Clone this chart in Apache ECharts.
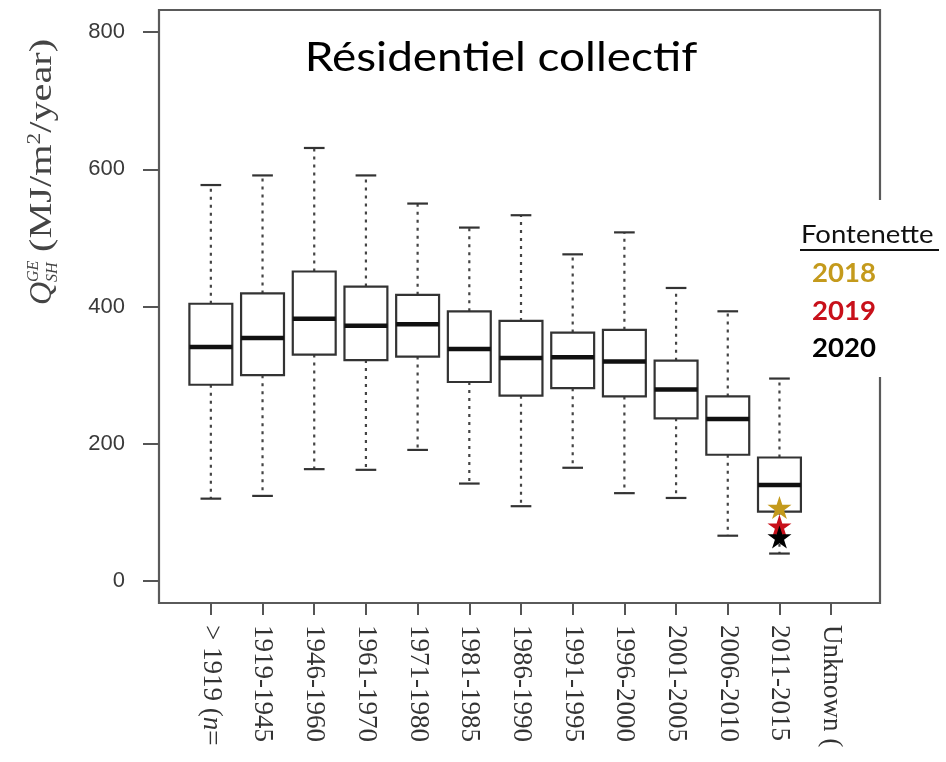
<!DOCTYPE html>
<html>
<head>
<meta charset="utf-8">
<title>Résidentiel collectif</title>
<script src="https://cdn.jsdelivr.net/npm/echarts@6/dist/echarts.min.js"></script>
<style>
  html, body { margin: 0; padding: 0; background: #fff; }
  #chart { width: 946px; height: 762px; }
</style>
</head>
<body>
<div id="chart"></div>
<script>
// Construction periods (x axis)
const categories = ['> 1919 (n=', '1919-1945', '1946-1960', '1961-1970', '1971-1980',
  '1981-1985', '1986-1990', '1991-1995', '1996-2000', '2001-2005', '2006-2010',
  '2011-2015', 'Unknown ('];

// Box statistics per period (MJ/m²/year); the last period has no box
const whiskerLow  = [120, 124, 163, 162, 191, 142, 109, 165, 128, 121,  66,  40];
const quartile1   = [286, 300, 330, 322, 327, 290, 270, 281, 269, 237, 184, 101];
const median      = [341, 354, 382, 372, 374, 338, 325, 326, 320, 279, 236, 140];
const quartile3   = [404, 419, 451, 429, 417, 393, 379, 362, 366, 321, 269, 180];
const whiskerHigh = [577, 591, 631, 591, 550, 515, 533, 476, 508, 427, 393, 295];

// Measured consumption of the Fontenette building
const fontenetteCategory = '2011-2015';
const fontenetteYears  = ['2018', '2019', '2020'];
const fontenetteValues = [107, 80, 64];
const fontenetteColors = ['#C49A1C', '#C8101A', '#000000'];

// Y axis range and step
const yMin = 0, yMax = 800, yStep = 200;

const boxData = quartile1.map((_, i) =>
  [i, whiskerLow[i], quartile1[i], median[i], quartile3[i], whiskerHigh[i]]);

const STAR = 'path://M50 0 L61.23 34.55 L97.55 34.55 L68.17 55.9 L79.39 90.45 L50 69.1 L20.61 90.45 L31.83 55.9 L2.45 34.55 L38.77 34.55 Z';

function renderBox(params, api) {
  const idx = api.value(0);
  const band = api.size([1, 0])[0];
  const half = band * 0.415;
  const capHalf = band * 0.2;
  const pLow = api.coord([idx, api.value(1)]);
  const cx = pLow[0];
  const yLow = pLow[1];
  const yQ1 = api.coord([idx, api.value(2)])[1];
  const yMed = api.coord([idx, api.value(3)])[1];
  const yQ3 = api.coord([idx, api.value(4)])[1];
  const yHigh = api.coord([idx, api.value(5)])[1];
  const dash = { stroke: '#444', lineWidth: 2.2, lineDash: [3, 5] };
  const solid = { stroke: '#333', lineWidth: 2.2 };
  return {
    type: 'group',
    children: [
      { type: 'line', shape: { x1: cx, y1: yQ3, x2: cx, y2: yHigh }, style: dash },
      { type: 'line', shape: { x1: cx, y1: yQ1, x2: cx, y2: yLow }, style: dash },
      { type: 'line', shape: { x1: cx - capHalf, y1: yHigh, x2: cx + capHalf, y2: yHigh }, style: solid },
      { type: 'line', shape: { x1: cx - capHalf, y1: yLow, x2: cx + capHalf, y2: yLow }, style: solid },
      { type: 'rect', shape: { x: cx - half, y: yQ3, width: half * 2, height: yQ1 - yQ3 },
        style: { fill: '#fff', stroke: '#333', lineWidth: 2.2 } },
      { type: 'line', shape: { x1: cx - half, y1: yMed, x2: cx + half, y2: yMed },
        style: { stroke: '#111', lineWidth: 4.5 } }
    ]
  };
}

const chart = echarts.init(document.getElementById('chart'), null, { renderer: 'canvas' });

const serif = 'Liberation Serif, Times New Roman, serif';

// period label: the count symbol "n" is set in italics
function periodLabel(value) {
  return value.replace('(n=', '({i|n}=');
}

const option = {
  animation: false,
  backgroundColor: '#fff',
  grid: [
    // outer frame
    { left: 159, right: 66, top: 10, bottom: 159, show: true,
      borderColor: '#5a5a5a', borderWidth: 2.2, backgroundColor: 'transparent' },
    // plotting area
    { left: 185, right: 89, top: 32, bottom: 181 },
    // period axis below the frame
    { left: 185, right: 89, top: 10, bottom: 159 }
  ],
  xAxis: [
    { gridIndex: 0, type: 'value', show: false },
    { gridIndex: 1, type: 'category', data: categories, show: false },
    { gridIndex: 2, type: 'category', data: categories, position: 'bottom',
      axisLine: { show: false },
      axisTick: { show: true, alignWithLabel: true, length: 12,
        lineStyle: { color: '#555', width: 2 } },
      axisLabel: { interval: 0, rotate: -90, margin: 22, fontFamily: serif,
        fontSize: 27, color: '#333', formatter: periodLabel,
        rich: { i: { fontFamily: serif, fontSize: 27, fontStyle: 'italic', color: '#333' } } },
      splitLine: { show: false } }
  ],
  yAxis: [
    { gridIndex: 0, type: 'value', show: false },
    { gridIndex: 1, type: 'value', min: yMin, max: yMax, interval: yStep, offset: 26,
      axisLine: { show: false },
      axisTick: { show: true, length: 16, lineStyle: { color: '#555', width: 2 } },
      axisLabel: { margin: 34, fontFamily: 'Liberation Sans, Arial, sans-serif',
        fontSize: 22, color: '#3a3a3a' },
      splitLine: { show: false } },
    { gridIndex: 2, type: 'value', show: false }
  ],
  series: [
    { type: 'custom', name: 'Q', xAxisIndex: 1, yAxisIndex: 1,
      renderItem: renderBox, data: boxData,
      encode: { x: 0, y: [1, 2, 3, 4, 5] }, z: 2 }
  ].concat(fontenetteYears.map((year, i) => ({
    type: 'scatter', name: year, xAxisIndex: 1, yAxisIndex: 1,
    symbol: STAR, symbolSize: [24, 23],
    itemStyle: { color: fontenetteColors[i], opacity: 1 },
    data: [[fontenetteCategory, fontenetteValues[i]]],
    z: 5 + i
  }))),
  graphic: [
    { type: 'text', x: 501, y: 58, z: 50, scaleX: 1.12,
      style: { text: 'Résidentiel collectif', font: '41px Lato, sans-serif',
        fill: '#000', align: 'center', verticalAlign: 'middle' } },
    // legend panel
    { type: 'rect', z: 60, shape: { x: 782, y: 200, width: 164, height: 177 },
      style: { fill: '#fff' } },
    { type: 'text', x: 801, y: 235, z: 61, scaleX: 1.1,
      style: { text: 'Fontenette', font: '25px Lato, sans-serif', fill: '#111',
        align: 'left', verticalAlign: 'middle' } },
    { type: 'line', z: 61, shape: { x1: 800, y1: 250, x2: 939, y2: 250 },
      style: { stroke: '#111', lineWidth: 2 } }
  ].concat(fontenetteYears.map((year, i) => ({
    type: 'text', x: 812, y: 274 + i * 37.5, z: 61, scaleX: 1.06,
    style: { text: year, font: 'bold 26px Lato, sans-serif', fill: fontenetteColors[i],
      align: 'left', verticalAlign: 'middle' }
  }))).concat([
    // y axis title, read bottom to top
    { type: 'group', x: 43, y: 305, rotation: Math.PI / 2, z: 50,
      children: [
        { type: 'text', x: 0, y: 0,
          style: { text: 'Q', font: 'italic 32px ' + serif, fill: '#444',
            align: 'left', verticalAlign: 'middle' } },
        { type: 'text', x: 23, y: -9,
          style: { text: 'GE', font: 'italic 16px ' + serif, fill: '#444',
            align: 'left', verticalAlign: 'middle' } },
        { type: 'text', x: 23, y: 10,
          style: { text: 'SH', font: 'italic 16px ' + serif, fill: '#444',
            align: 'left', verticalAlign: 'middle' } },
        { type: 'text', x: 53, y: 0, scaleX: 1.3,
          style: { text: '{n|(MJ/m}{s|2}{n|/year)}', fill: '#444',
            align: 'left', verticalAlign: 'middle',
            rich: {
              n: { fontFamily: serif, fontSize: 31, lineHeight: 34, fill: '#444' },
              s: { fontFamily: serif, fontSize: 18, lineHeight: 20, fill: '#444',
                verticalAlign: 'top' }
            } } }
      ] }
  ])
};

chart.setOption(option);
</script>
</body>
</html>
